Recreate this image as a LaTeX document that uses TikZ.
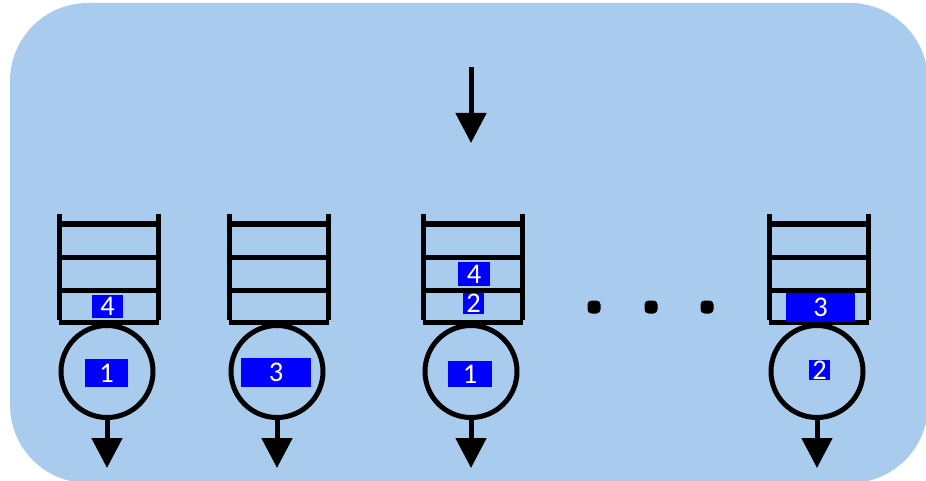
\documentclass[tikz,border=0pt]{standalone}
\usepackage{fontspec}
\setmainfont{Carlito}
\usetikzlibrary{arrows.meta}
\definecolor{panel}{RGB}{169,203,238}
\definecolor{jobblue}{RGB}{0,0,255}

\begin{document}
\begin{tikzpicture}[x=1pt,y=-1pt,
  bar/.style={line width=5pt},
  server/.style={circle,draw,line width=5pt,minimum size=92pt,inner sep=0pt},
  flow/.style={line width=5pt,-{Triangle[length=30pt,width=30pt]}},
  job/.style={fill=jobblue,text=white,inner sep=0pt,
    font=\fontsize{28.5}{28.5}\selectfont},
]
\useasboundingbox (0,0) rectangle (926,481);

% panel
\fill[panel,rounded corners=78pt] (10,3) rectangle (928,483);

% incoming arrivals
\coordinate (in1) at (471,67);
\coordinate (in2) at (471,143);
\draw[flow] (in1) -- (in2);

% queues: buffer rungs, server circle and departure arrow
\foreach \L/\n in {59/1,229/2,423/3,769/4}{
  \draw[bar] (\L,214) -- (\L,320);
  \draw[bar] (\L+99.5,214) -- (\L+99.5,320);
  \draw[bar] (\L,224) -- (\L+99.5,224);
  \draw[bar] (\L,257) -- (\L+99.5,257);
  \draw[bar] (\L,290) -- (\L+99.5,290);
  \draw[line width=5.5pt] (\L,322.5) -- (\L+100,322.5);
  \node[server] (s\n) at (\L+48,371.5) {};
  \coordinate (o\n) at (\L+48,468);
  \draw[flow] (s\n) -- (o\n);
}

% jobs
\node[job,minimum width=31pt,minimum height=23pt] (j1a) at (107.5,306.5) {4};
\node[job,minimum width=43pt,minimum height=28pt] (j1s) at (106.5,373) {1};
\node[job,minimum width=70pt,minimum height=29pt] (j2s) at (276,372.5) {3};
\node[job,minimum width=32pt,minimum height=24pt] (j3a) at (474,274) {4};
\node[job,minimum width=21pt,minimum height=21pt] (j3b) at (473.5,303.5) {2};
\node[job,minimum width=44pt,minimum height=26pt] (j3s) at (470,374) {1};
\node[job,minimum width=69pt,minimum height=29pt] (j4a) at (820.5,307.5) {3};
\node[job,minimum width=21pt,minimum height=20pt] (j4s) at (819.5,370) {2};

% ellipsis
\foreach \x in {594,651,707}
  \fill[rounded corners=4pt] (\x-6.5,300.5) rectangle (\x+6.5,313.5);
\end{tikzpicture}
\end{document}
